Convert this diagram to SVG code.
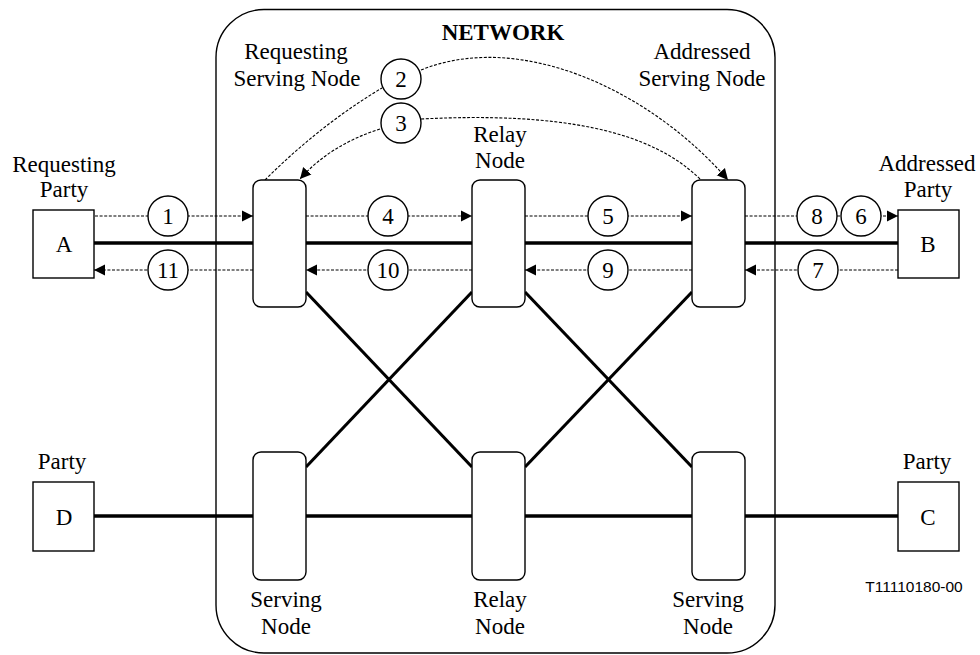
<svg xmlns="http://www.w3.org/2000/svg" width="980" height="655" viewBox="0 0 980 655">
<style>
text{font-family:"Liberation Serif","Times New Roman",serif;font-size:23px;text-anchor:middle;fill:#000}
.bold{font-weight:bold}
.code{font-family:"Liberation Sans",Arial,sans-serif;font-size:15.5px}
.box{fill:#fff;stroke:#000;stroke-width:1.4}
.net{fill:none;stroke:#000;stroke-width:1.4}
.thick{stroke:#000;stroke-width:3.4;fill:none}
.diag{stroke:#000;stroke-width:3.1;fill:none}
.dash{stroke:#000;stroke-width:1.1;fill:none;stroke-dasharray:3,1.6}
.arr{marker-end:url(#ah)}
.num{fill:#fff;stroke:#000;stroke-width:1.4}
</style>
<defs>
<marker id="ah" markerUnits="userSpaceOnUse" markerWidth="12" markerHeight="12" refX="11" refY="6" orient="auto">
<path d="M0,0.5 L11,6 L0,11.5 z" fill="#000"/>
</marker>
</defs>
<rect fill="#fff" x="0" y="0" width="980" height="655"/>
<g id="network">
<rect class="net" x="216" y="9.5" width="559" height="643.5" rx="48"/>
<text class="bold" x="503" y="40">NETWORK</text>
</g>
<g id="connectors">
<line class="thick" x1="94" y1="243" x2="898" y2="243"/>
<line class="thick" x1="94" y1="516" x2="898" y2="516"/>
<line class="diag" x1="306" y1="292" x2="472" y2="467"/>
<line class="diag" x1="306" y1="467" x2="472" y2="292"/>
<line class="diag" x1="525" y1="292" x2="692" y2="467"/>
<line class="diag" x1="525" y1="467" x2="692" y2="292"/>
<line class="dash arr" x1="95" y1="216" x2="253" y2="216"/>
<line class="dash arr" x1="306" y1="216" x2="472" y2="216"/>
<line class="dash arr" x1="525" y1="216" x2="692" y2="216"/>
<line class="dash arr" x1="745" y1="216" x2="898" y2="216"/>
<line class="dash arr" x1="898" y1="270" x2="745" y2="270"/>
<line class="dash arr" x1="692" y1="270" x2="525" y2="270"/>
<line class="dash arr" x1="472" y1="270" x2="306" y2="270"/>
<line class="dash arr" x1="253" y1="270" x2="94" y2="270"/>
<path class="dash" d="M265,180 Q320,125 382,88"/>
<path class="dash arr" d="M421,70 C520,30 650,90 728,180"/>
<path class="dash" d="M700,179 C650,130 560,112 421,119"/>
<path class="dash arr" d="M380,129 Q330,145 300,179"/>
<g id="labels">
<circle class="num" cx="168" cy="216" r="20"/><text x="168" y="224">1</text>
<circle class="num" cx="401" cy="79" r="20"/><text x="401" y="87">2</text>
<circle class="num" cx="401" cy="123" r="20"/><text x="401" y="131">3</text>
<circle class="num" cx="388" cy="216" r="20"/><text x="388" y="224">4</text>
<circle class="num" cx="608" cy="216" r="20"/><text x="608" y="224">5</text>
<circle class="num" cx="861" cy="216" r="20"/><text x="861" y="224">6</text>
<circle class="num" cx="818" cy="270" r="20"/><text x="818" y="278">7</text>
<circle class="num" cx="817" cy="216" r="20"/><text x="817" y="224">8</text>
<circle class="num" cx="608" cy="270" r="20"/><text x="608" y="278">9</text>
<circle class="num" cx="388" cy="270" r="20"/><text x="388" y="278">10</text>
<circle class="num" cx="168" cy="270" r="20"/><text x="168" y="278">11</text>
</g>
</g>
<g id="partyA">
<rect class="box" x="33" y="210" width="61" height="68"/>
<text x="64" y="252">A</text>
<text x="64" y="172">Requesting</text>
<text x="64" y="197">Party</text>
</g>
<g id="partyB">
<rect class="box" x="898" y="210" width="61" height="68"/>
<text x="928" y="252">B</text>
<text x="927" y="171">Addressed</text>
<text x="928" y="197">Party</text>
</g>
<g id="partyD">
<rect class="box" x="33" y="482" width="61" height="69"/>
<text x="64" y="525">D</text>
<text x="62" y="469">Party</text>
</g>
<g id="partyC">
<rect class="box" x="898" y="482" width="61" height="69"/>
<text x="928" y="525">C</text>
<text x="927" y="469">Party</text>
</g>
<g id="requestingServingNode">
<rect class="box" x="253" y="180" width="53" height="127" rx="8"/>
<text x="296" y="59">Requesting</text>
<text x="297" y="86">Serving Node</text>
</g>
<g id="relayNodeTop">
<rect class="box" x="472" y="180" width="53" height="127" rx="8"/>
<text x="500" y="142">Relay</text>
<text x="500" y="168">Node</text>
</g>
<g id="addressedServingNode">
<rect class="box" x="692" y="180" width="53" height="127" rx="8"/>
<text x="702" y="59">Addressed</text>
<text x="702" y="86">Serving Node</text>
</g>
<g id="servingNodeLeft">
<rect class="box" x="253" y="452" width="53" height="128" rx="8"/>
<text x="286" y="607">Serving</text>
<text x="286" y="634">Node</text>
</g>
<g id="relayNodeBottom">
<rect class="box" x="472" y="452" width="53" height="128" rx="8"/>
<text x="500" y="607">Relay</text>
<text x="500" y="634">Node</text>
</g>
<g id="servingNodeRight">
<rect class="box" x="692" y="452" width="53" height="128" rx="8"/>
<text x="708" y="607">Serving</text>
<text x="708" y="634">Node</text>
</g>
<text class="code" x="914" y="592">T11110180-00</text>
</svg>
